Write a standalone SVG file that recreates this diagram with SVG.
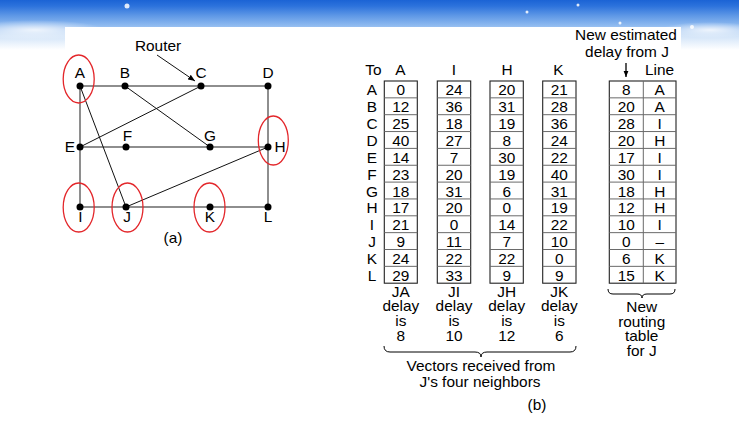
<svg xmlns="http://www.w3.org/2000/svg" width="739" height="426" viewBox="0 0 739 426">
<defs>
<linearGradient id="sky" x1="0" y1="0" x2="0" y2="1">
<stop offset="0" stop-color="#1b63d5"/>
<stop offset="0.12" stop-color="#2c72dc"/>
<stop offset="0.3" stop-color="#5b95e5"/>
<stop offset="0.5" stop-color="#8cb8ef"/>
<stop offset="0.72" stop-color="#d2e4f8"/>
<stop offset="1" stop-color="#ffffff"/>
</linearGradient>
<radialGradient id="cloud" cx="0.5" cy="0.5" r="0.5">
<stop offset="0" stop-color="#ffffff" stop-opacity="0.8"/>
<stop offset="1" stop-color="#ffffff" stop-opacity="0"/>
</radialGradient>
<marker id="ah" viewBox="0 0 10 10" refX="10" refY="5" markerWidth="7" markerHeight="7" orient="auto" markerUnits="userSpaceOnUse">
<path d="M0,1 L10,5 L0,9 Z" fill="#000"/>
</marker>
<marker id="ah2" viewBox="0 0 10 10" refX="10" refY="5" markerWidth="6" markerHeight="8" orient="auto" markerUnits="userSpaceOnUse">
<path d="M0,1 L10,5 L0,9 Z" fill="#000"/>
</marker>
</defs>
<style>
text{font-family:"Liberation Sans",Arial,Helvetica,sans-serif;font-size:14px;fill:#000;text-anchor:middle}
.grid{stroke:#6a6a6a;stroke-width:1.5;fill:none}
.diag{stroke:#111;stroke-width:1;fill:none}
.dot{fill:#000}
.ring{fill:none;stroke:#e3262a;stroke-width:1.3}
.box{fill:#fff;stroke:#222;stroke-width:1.1}
.rows{stroke:#6a6a6a;stroke-width:1;fill:none}
.brace{fill:none;stroke:#000;stroke-width:1}
</style>

<!-- background -->
<rect x="0" y="0" width="739" height="426" fill="#fff"/>
<rect x="0" y="0" width="739" height="50" fill="url(#sky)"/>
<ellipse cx="35" cy="30" rx="70" ry="10" fill="url(#cloud)"/>
<ellipse cx="710" cy="30" rx="50" ry="8" fill="url(#cloud)"/>
<g fill="#fff" opacity="0.85">
<circle cx="127" cy="6" r="2.5"/>
<circle cx="527" cy="12" r="1.5"/>
<circle cx="578" cy="5" r="1.5"/>
<circle cx="620" cy="23" r="1.5"/>
<circle cx="692" cy="27" r="2"/>
</g>
<rect x="65" y="27" width="616" height="399" fill="#fff"/>

<!-- connectors of graph (a) -->
<g id="connectors">
<path class="grid" d="M80,86 H268 V207 H80 Z M80,147 H268"/>
<line class="diag" x1="80" y1="86" x2="126" y2="207"/>
<line class="diag" x1="125" y1="86" x2="210" y2="147"/>
<line class="diag" x1="201" y1="86" x2="80" y2="147"/>
<line class="diag" x1="126" y1="207" x2="268" y2="147"/>
<line class="diag" x1="157" y1="55" x2="195" y2="81" marker-end="url(#ah)"/>
</g>

<!-- nodes -->
<g id="node-A"><circle class="dot" cx="80" cy="86" r="3.5"/><text transform="scale(1.1,1)" x="72.73" y="78">A</text><ellipse class="ring" cx="78.7" cy="79" rx="15.5" ry="24"/></g>
<g id="node-B"><circle class="dot" cx="125" cy="86" r="3.5"/><text transform="scale(1.1,1)" x="113.64" y="78">B</text></g>
<g id="node-C"><circle class="dot" cx="201" cy="86" r="3.5"/><text transform="scale(1.1,1)" x="182.73" y="78">C</text></g>
<g id="node-D"><circle class="dot" cx="268" cy="86" r="3.5"/><text transform="scale(1.1,1)" x="243.64" y="78">D</text></g>
<g id="node-E"><circle class="dot" cx="80" cy="147" r="3.5"/><text transform="scale(1.1,1)" x="63.64" y="152">E</text></g>
<g id="node-F"><circle class="dot" cx="126" cy="147" r="3.5"/><text transform="scale(1.1,1)" x="115.91" y="141.5">F</text></g>
<g id="node-G"><circle class="dot" cx="210" cy="147" r="3.5"/><text transform="scale(1.1,1)" x="190.91" y="141">G</text></g>
<g id="node-H"><circle class="dot" cx="268" cy="147" r="3.5"/><text transform="scale(1.1,1)" x="254.55" y="152">H</text><ellipse class="ring" cx="273.3" cy="140.5" rx="15" ry="24.5"/></g>
<g id="node-I"><circle class="dot" cx="80" cy="207" r="3.5"/><text transform="scale(1.1,1)" x="73.18" y="222.5">I</text><ellipse class="ring" cx="78.7" cy="207.5" rx="15.5" ry="24.5"/></g>
<g id="node-J"><circle class="dot" cx="126" cy="207" r="3.5"/><text transform="scale(1.1,1)" x="115.45" y="222.5">J</text><ellipse class="ring" cx="127.5" cy="207.5" rx="15.5" ry="24.5"/></g>
<g id="node-K"><circle class="dot" cx="210" cy="207" r="3.5"/><text transform="scale(1.1,1)" x="190.91" y="222.5">K</text><ellipse class="ring" cx="209.5" cy="207.5" rx="15.5" ry="24.5"/></g>
<g id="node-L"><circle class="dot" cx="268" cy="207" r="3.5"/><text transform="scale(1.1,1)" x="243.64" y="222.5">L</text></g>
<g id="router-label"><text transform="scale(1.1,1)" x="143.64" y="51">Router</text></g>
<g id="caption-a"><text transform="scale(1.1,1)" x="157.27" y="243">(a)</text></g>

<!-- table (b): boxes -->
<g id="table-boxes">
<rect class="box" x="384.3" y="81" width="33" height="202.2"/>
<rect class="box" x="437.3" y="81" width="33.4" height="202.2"/>
<rect class="box" x="490" y="81" width="33.3" height="202.2"/>
<rect class="box" x="542.7" y="81" width="33.3" height="202.2"/>
<rect class="box" x="609.3" y="81" width="66.7" height="202.2"/>
<path class="rows" d="M643.3,81 V283.2"/>
<path class="rows" d="M384.3,97.85 H417.3 M384.3,114.7 H417.3 M384.3,131.55 H417.3 M384.3,148.4 H417.3 M384.3,165.25 H417.3 M384.3,182.1 H417.3 M384.3,198.95 H417.3 M384.3,215.8 H417.3 M384.3,232.65 H417.3 M384.3,249.5 H417.3 M384.3,266.35 H417.3"/>
<path class="rows" d="M437.3,97.85 H470.7 M437.3,114.7 H470.7 M437.3,131.55 H470.7 M437.3,148.4 H470.7 M437.3,165.25 H470.7 M437.3,182.1 H470.7 M437.3,198.95 H470.7 M437.3,215.8 H470.7 M437.3,232.65 H470.7 M437.3,249.5 H470.7 M437.3,266.35 H470.7"/>
<path class="rows" d="M490,97.85 H523.3 M490,114.7 H523.3 M490,131.55 H523.3 M490,148.4 H523.3 M490,165.25 H523.3 M490,182.1 H523.3 M490,198.95 H523.3 M490,215.8 H523.3 M490,232.65 H523.3 M490,249.5 H523.3 M490,266.35 H523.3"/>
<path class="rows" d="M542.7,97.85 H576 M542.7,114.7 H576 M542.7,131.55 H576 M542.7,148.4 H576 M542.7,165.25 H576 M542.7,182.1 H576 M542.7,198.95 H576 M542.7,215.8 H576 M542.7,232.65 H576 M542.7,249.5 H576 M542.7,266.35 H576"/>
<path class="rows" d="M609.3,97.85 H676 M609.3,114.7 H676 M609.3,131.55 H676 M609.3,148.4 H676 M609.3,165.25 H676 M609.3,182.1 H676 M609.3,198.95 H676 M609.3,215.8 H676 M609.3,232.65 H676 M609.3,249.5 H676 M609.3,266.35 H676"/>
</g>

<g id="table-arrows">
<line x1="626" y1="63" x2="626" y2="77" stroke="#000" stroke-width="1.3" marker-end="url(#ah2)"/>
<path class="brace" d="M384,346 Q384,352 390,352 L475,352 Q481,352 481,357 Q481,352 487,352 L570,352 Q576,352 576,346"/>
<path class="brace" d="M608,289 Q608,294 613,294 L637,294 Q642,294 642,298 Q642,294 647,294 L670,294 Q675,294 675,289"/>
</g>

<g id="table-text" transform="scale(1.1,1)">
<text x="569.09" y="40.5">New estimated</text>
<text x="570" y="57">delay from J</text>
<text x="339.55" y="75.5">To</text>
<text x="364.09" y="75.5">A</text>
<text x="412.73" y="75.5">I</text>
<text x="460.91" y="75.5">H</text>
<text x="507.73" y="75.5">K</text>
<text x="599.55" y="75.5">Line</text>

<g id="row-labels">
<text x="338.18" y="95.5">A</text>
<text x="338.18" y="112.35">B</text>
<text x="338.18" y="129.2">C</text>
<text x="338.18" y="146.05">D</text>
<text x="338.18" y="162.9">E</text>
<text x="338.18" y="179.75">F</text>
<text x="338.18" y="196.6">G</text>
<text x="338.18" y="213.45">H</text>
<text x="338.18" y="230.3">I</text>
<text x="338.18" y="247.15">J</text>
<text x="338.18" y="264">K</text>
<text x="338.18" y="280.85">L</text>
</g>

<g id="col-A">
<text x="364.36" y="95.5">0</text>
<text x="364.36" y="112.35">12</text>
<text x="364.36" y="129.2">25</text>
<text x="364.36" y="146.05">40</text>
<text x="364.36" y="162.9">14</text>
<text x="364.36" y="179.75">23</text>
<text x="364.36" y="196.6">18</text>
<text x="364.36" y="213.45">17</text>
<text x="364.36" y="230.3">21</text>
<text x="364.36" y="247.15">9</text>
<text x="364.36" y="264">24</text>
<text x="364.36" y="280.85">29</text>
</g>
<g id="col-I">
<text x="412.73" y="95.5">24</text>
<text x="412.73" y="112.35">36</text>
<text x="412.73" y="129.2">18</text>
<text x="412.73" y="146.05">27</text>
<text x="412.73" y="162.9">7</text>
<text x="412.73" y="179.75">20</text>
<text x="412.73" y="196.6">31</text>
<text x="412.73" y="213.45">20</text>
<text x="412.73" y="230.3">0</text>
<text x="412.73" y="247.15">11</text>
<text x="412.73" y="264">22</text>
<text x="412.73" y="280.85">33</text>
</g>
<g id="col-H">
<text x="460.64" y="95.5">20</text>
<text x="460.64" y="112.35">31</text>
<text x="460.64" y="129.2">19</text>
<text x="460.64" y="146.05">8</text>
<text x="460.64" y="162.9">30</text>
<text x="460.64" y="179.75">19</text>
<text x="460.64" y="196.6">6</text>
<text x="460.64" y="213.45">0</text>
<text x="460.64" y="230.3">14</text>
<text x="460.64" y="247.15">7</text>
<text x="460.64" y="264">22</text>
<text x="460.64" y="280.85">9</text>
</g>
<g id="col-K">
<text x="508.48" y="95.5">21</text>
<text x="508.48" y="112.35">28</text>
<text x="508.48" y="129.2">36</text>
<text x="508.48" y="146.05">24</text>
<text x="508.48" y="162.9">22</text>
<text x="508.48" y="179.75">40</text>
<text x="508.48" y="196.6">31</text>
<text x="508.48" y="213.45">19</text>
<text x="508.48" y="230.3">22</text>
<text x="508.48" y="247.15">10</text>
<text x="508.48" y="264">0</text>
<text x="508.48" y="280.85">9</text>
</g>
<g id="col-new-delay">
<text x="569.36" y="95.5">8</text>
<text x="569.36" y="112.35">20</text>
<text x="569.36" y="129.2">28</text>
<text x="569.36" y="146.05">20</text>
<text x="569.36" y="162.9">17</text>
<text x="569.36" y="179.75">30</text>
<text x="569.36" y="196.6">18</text>
<text x="569.36" y="213.45">12</text>
<text x="569.36" y="230.3">10</text>
<text x="569.36" y="247.15">0</text>
<text x="569.36" y="264">6</text>
<text x="569.36" y="280.85">15</text>
</g>
<g id="col-line">
<text x="599.73" y="95.5">A</text>
<text x="599.73" y="112.35">A</text>
<text x="599.73" y="129.2">I</text>
<text x="599.73" y="146.05">H</text>
<text x="599.73" y="162.9">I</text>
<text x="599.73" y="179.75">I</text>
<text x="599.73" y="196.6">H</text>
<text x="599.73" y="213.45">H</text>
<text x="599.73" y="230.3">I</text>
<text x="599.73" y="247.15">–</text>
<text x="599.73" y="264">K</text>
<text x="599.73" y="280.85">K</text>
</g>

<g id="delays">
<text x="364.36" y="297">JA</text>
<text x="364.36" y="311">delay</text>
<text x="364.36" y="326.5">is</text>
<text x="364.36" y="341.5">8</text>
<text x="412.73" y="297">JI</text>
<text x="412.73" y="311">delay</text>
<text x="412.73" y="326.5">is</text>
<text x="412.73" y="341.5">10</text>
<text x="460.64" y="297">JH</text>
<text x="460.64" y="311">delay</text>
<text x="460.64" y="326.5">is</text>
<text x="460.64" y="341.5">12</text>
<text x="508.48" y="297">JK</text>
<text x="508.48" y="311">delay</text>
<text x="508.48" y="326.5">is</text>
<text x="508.48" y="341.5">6</text>
</g>

<text x="583.36" y="312.5">New</text>
<text x="583.36" y="327">routing</text>
<text x="583.36" y="341.5">table</text>
<text x="583.36" y="356">for J</text>

<text x="437.27" y="371.5">Vectors received from</text>
<text x="436.36" y="387">J's four neighbors</text>
<text x="488.18" y="410">(b)</text>
</g>
</svg>
